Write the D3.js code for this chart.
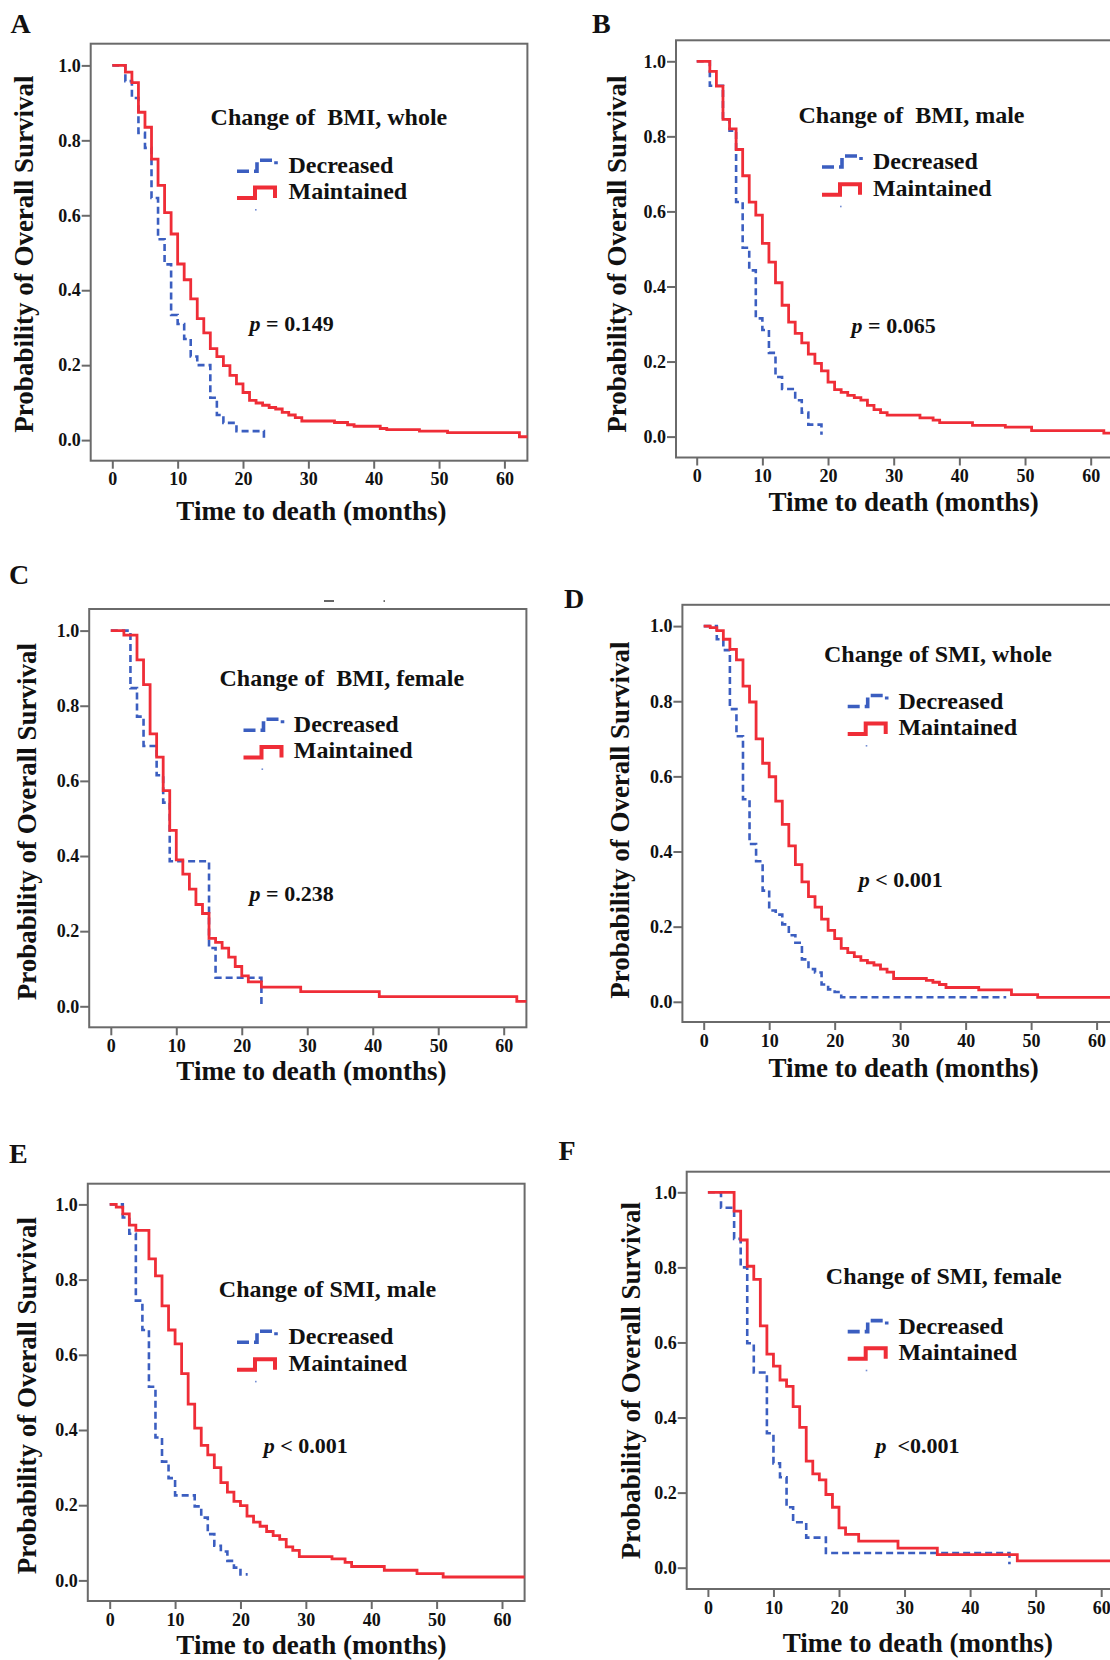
<!DOCTYPE html>
<html>
<head>
<meta charset="utf-8">
<script src="https://cdn.jsdelivr.net/npm/d3@7"></script>
<style>
  html, body { margin: 0; padding: 0; background: #fff; }
  svg { display: block; }
  text { font-family: "Liberation Serif", "Times New Roman", serif; font-weight: bold; fill: #111; }
</style>
</head>
<body>
<svg id="chart" width="1110" height="1660"></svg>
<script>
// ---------------- data ----------------
const panelLetters = ["A", "B", "C", "D", "E", "F"];
const panelTitles = ["Change of  BMI, whole", "Change of  BMI, male", "Change of  BMI, female",
                     "Change of SMI, whole", "Change of SMI, male", "Change of SMI, female"];
const pTexts = [" = 0.149", " = 0.065", " = 0.238", " < 0.001", " < 0.001", "  <0.001"];
const groupNames = ["Decreased", "Maintained"];
const monthTicks = [0, 10, 20, 30, 40, 50, 60];
const survTicks = [0, 0.2, 0.4, 0.6, 0.8, 1.0];
const xTitle = "Time to death (months)";
const yTitle = "Probability of Overall Survival";

// Kaplan-Meier steps: [time (months), survival from that time on]
const A_decreased = [[0,1],[2,0.958],[3,0.913],[4,0.82],[5,0.78],[6,0.646],[7,0.536],[8,0.469],[9,0.334],[10,0.31],[11,0.27],[12,0.223],[13,0.2],[15,0.113],[16,0.067],[17,0.046],[19,0.024],[23.2,0]];
const A_maintained = [[0,1],[2,0.982],[3,0.954],[4,0.875],[5,0.835],[6,0.75],[7,0.68],[8,0.607],[9,0.55],[10,0.47],[11,0.428],[12,0.377],[13,0.324],[14,0.286],[15,0.244],[16,0.223],[17,0.199],[18,0.173],[19,0.15],[20,0.127],[21,0.106],[22,0.099],[23,0.093],[24,0.087],[25,0.083],[26,0.074],[27,0.067],[28,0.06],[29,0.051],[34,0.047],[36,0.041],[37,0.037],[41,0.031],[42,0.028],[47,0.024],[51.3,0.02],[62.3,0.009],[64,0.009]];

const B_decreased = [[0,1],[2,0.935],[4,0.845],[5,0.815],[6,0.625],[7,0.503],[8,0.443],[9,0.315],[10,0.284],[11,0.223],[12,0.159],[13,0.127],[15,0.097],[16,0.064],[17,0.032],[19,0.005]];
const B_maintained = [[0,1],[2,0.973],[3,0.934],[4,0.845],[5,0.82],[6,0.765],[7,0.695],[8,0.625],[9,0.59],[10,0.515],[11,0.465],[12,0.41],[13,0.35],[14,0.305],[15,0.275],[16,0.25],[17,0.22],[18,0.195],[19,0.175],[20,0.145],[21,0.125],[22,0.118],[23,0.11],[24,0.104],[25,0.097],[26,0.083],[27,0.072],[28,0.064],[29,0.057],[34,0.05],[36,0.044],[37,0.037],[42,0.03],[47,0.025],[51,0.016],[62,0.009],[64,0.009]];

const C_decreased = [[0,1],[3,0.847],[4,0.771],[5,0.693],[7,0.615],[8,0.542],[9,0.386],[15,0.155],[16,0.076],[23,0]];
const C_maintained = [[0,1],[2,0.988],[4,0.922],[5,0.856],[6,0.725],[7,0.663],[8,0.574],[9,0.468],[10,0.39],[11,0.352],[12,0.312],[13,0.271],[14,0.247],[15,0.181],[16,0.17],[17,0.155],[18,0.131],[19,0.106],[20,0.081],[21,0.065],[23,0.051],[29,0.039],[41,0.026],[62,0.013],[64,0.013]];

const D_decreased = [[0,1],[2,0.965],[3,0.936],[4,0.779],[5,0.707],[6,0.539],[7,0.42],[8,0.374],[9,0.296],[10,0.243],[11,0.232],[12,0.206],[13,0.177],[14,0.157],[15,0.113],[16,0.087],[17,0.078],[18,0.046],[19,0.033],[20,0.026],[21,0.012],[46.2,0.012]];
const D_maintained = [[0,1],[1,0.996],[2,0.988],[3,0.965],[4,0.938],[5,0.91],[6,0.84],[7,0.798],[8,0.7],[9,0.635],[10,0.599],[11,0.534],[12,0.472],[13,0.415],[14,0.365],[15,0.319],[16,0.28],[17,0.252],[18,0.22],[19,0.19],[20,0.168],[21,0.142],[22,0.131],[23,0.12],[24,0.11],[25,0.104],[26,0.098],[27,0.087],[28,0.079],[29,0.062],[34,0.057],[35,0.052],[36,0.046],[37,0.038],[42,0.032],[47,0.019],[51,0.012],[64,0.012]];

const E_decreased = [[0,1],[2,0.965],[3,0.922],[4,0.744],[5,0.666],[6,0.515],[7,0.38],[8,0.316],[9,0.272],[10,0.226],[13,0.197],[14,0.167],[15,0.123],[16,0.092],[17,0.077],[18,0.052],[19,0.034],[20,0.016],[21.1,0.016]];
const E_maintained = [[0,1],[1,0.993],[2,0.975],[3,0.945],[4,0.931],[6,0.855],[7,0.81],[8,0.73],[9,0.666],[10,0.629],[11,0.55],[12,0.469],[13,0.405],[14,0.359],[15,0.334],[16,0.3],[17,0.26],[18,0.235],[19,0.21],[20,0.199],[21,0.171],[22,0.155],[23,0.144],[24,0.13],[25,0.119],[26,0.109],[27,0.089],[28,0.08],[29,0.063],[34,0.057],[36,0.048],[37,0.037],[42,0.027],[47,0.018],[51,0.009],[64,0.009]];

const F_decreased = [[0,1],[2,0.959],[4,0.876],[5,0.8],[6,0.598],[7,0.52],[9,0.358],[10,0.278],[11,0.241],[12,0.161],[13,0.121],[15,0.08],[18,0.039],[46,0.009]];
const F_maintained = [[0,1],[4,0.95],[5,0.873],[6,0.803],[7,0.768],[8,0.644],[9,0.569],[10,0.537],[11,0.5],[12,0.483],[13,0.429],[14,0.374],[15,0.284],[16,0.25],[17,0.234],[18,0.195],[19,0.161],[20,0.106],[21,0.089],[23,0.071],[29,0.052],[35,0.035],[47.2,0.018],[64,0.018]];

const seriesDecreased = [A_decreased, B_decreased, C_decreased, D_decreased, E_decreased, F_decreased];
const seriesMaintained = [A_maintained, B_maintained, C_maintained, D_maintained, E_maintained, F_maintained];

// ---------------- layout (pixel geometry) ----------------
const layout = [
  {box:[90.7,43.7,527.4,460.7],   x0:112.3, x60:504.4, y1:65.4,   y0:440.1,  letter:[10.6,33],  title:[210.6,125],  leg:[237,288.5,165.3,191],   p:[249.6,331],  xt:[311.5,520],   yt:[32.6,254]},
  {box:[676,40.3,1116,457.5],     x0:696.7, x60:1090.7,y1:61.3,   y0:436.6,  letter:[592,33],   title:[798.5,123.4],leg:[822,872.9,161,187.7],   p:[851.6,333],  xt:[903.7,511.4], yt:[625.6,254]},
  {box:[89.2,609,526.4,1027.3],   x0:110.8, x60:503.7, y1:630.6,  y0:1006.3, letter:[9,584],    title:[219.5,685.8],leg:[243.5,293.8,724.3,750.4],p:[249.6,900.5],xt:[311.5,1080],  yt:[36.2,821.7]},
  {box:[682.4,604.8,1116,1022],   x0:703.7, x60:1096.6,y1:626.1,  y0:1001.8, letter:[564,608],  title:[824,661.7],  leg:[847.7,898.4,700.5,727], p:[858.7,887],  xt:[903.7,1076.6],yt:[629,820]},
  {box:[87.8,1183.7,524.6,1601],  x0:109.7, x60:502,   y1:1204.4, y0:1580.4, letter:[9,1163],   title:[218.8,1297.4],leg:[237,288.5,1336.3,1362.8],p:[263.7,1453], xt:[311.5,1654],  yt:[36.2,1395.5]},
  {box:[686.7,1171.7,1116,1589],  x0:707.9, x60:1101.2,y1:1192.3, y0:1567.7, letter:[558.5,1160],title:[825.8,1283.6],leg:[847.7,898.4,1325.6,1351.7],p:[875.4,1453],xt:[917.8,1652], yt:[639.6,1380.7]}
];

const RED = "#ef2d37";
const BLUE = "#3b5ec0";
const AXIS = "#6a6a6a";

const svg = d3.select("#chart");
const defs = svg.append("defs");

layout.forEach((L, i) => {
  const g = svg.append("g");
  const x = d3.scaleLinear().domain([0, 60]).range([L.x0, L.x60]);
  const y = d3.scaleLinear().domain([0, 1]).range([L.y0, L.y1]);
  const [bl, bt, br, bb] = L.box;

  defs.append("clipPath").attr("id", "clip" + i)
    .append("rect").attr("x", bl).attr("y", bt).attr("width", br - bl).attr("height", bb - bt);

  // axes
  const yAxis = d3.axisLeft(y).tickValues(survTicks).tickFormat(d3.format(".1f")).tickSize(9).tickPadding(1);
  const gy = g.append("g").attr("transform", `translate(${bl},0)`).call(yAxis);
  const xAxis = d3.axisBottom(x).tickValues(monthTicks).tickFormat(d3.format("d")).tickSize(8).tickPadding(4);
  const gx = g.append("g").attr("transform", `translate(0,${bb})`).call(xAxis);
  [gx, gy].forEach(ax => {
    ax.select(".domain").remove();
    ax.selectAll(".tick line").attr("stroke", AXIS).attr("stroke-width", 2);
    ax.selectAll(".tick text").attr("fill", "#111")
      .style("font-family", '"Liberation Sans Narrow", "Liberation Serif", serif')
      .style("font-weight", "bold").style("font-size", "18px");
  });

  // box
  g.append("rect").attr("x", bl).attr("y", bt).attr("width", br - bl).attr("height", bb - bt)
    .attr("fill", "none").attr("stroke", AXIS).attr("stroke-width", 2);

  // curves
  const line = d3.line().x(d => x(d[0])).y(d => y(d[1])).curve(d3.curveStepAfter);
  const cg = g.append("g").attr("clip-path", `url(#clip${i})`);
  cg.append("path").attr("d", line(seriesDecreased[i])).attr("fill", "none")
    .attr("stroke", BLUE).attr("stroke-width", 2.6).attr("stroke-dasharray", "7,4");
  cg.append("path").attr("d", line(seriesMaintained[i])).attr("fill", "none")
    .attr("stroke", RED).attr("stroke-width", 2.8);

  // panel letter
  g.append("text").attr("x", L.letter[0]).attr("y", L.letter[1]).style("font-size", "28px").text(panelLetters[i]);

  // title
  g.append("text").attr("x", L.title[0]).attr("y", L.title[1]).style("font-size", "24px")
    .style("white-space", "pre").attr("xml:space", "preserve").text(panelTitles[i]);

  // legend
  const [sx, tx, cDec, cMai] = L.leg;
  g.append("path").attr("d", `M${sx},${cDec + 6}H${sx + 20}V${cDec - 5}H${sx + 39}V${cDec - 1}`)
    .attr("fill", "none").attr("stroke", BLUE).attr("stroke-width", 3.6).attr("stroke-dasharray", "12,5");
  g.append("path").attr("d", `M${sx},${cMai + 7}H${sx + 18}V${cMai - 3.5}H${sx + 38}V${cMai + 7}`)
    .attr("fill", "none").attr("stroke", RED).attr("stroke-width", 4);
  g.append("rect").attr("x", sx + 18).attr("y", cMai + 18).attr("width", 1.6).attr("height", 1.6).attr("fill", BLUE).attr("opacity", 0.7);
  g.append("text").attr("x", tx).attr("y", cDec + 8).style("font-size", "24px").text(groupNames[0]);
  g.append("text").attr("x", tx).attr("y", cMai + 8).style("font-size", "24px").text(groupNames[1]);

  // p value
  const pt = g.append("text").attr("x", L.p[0]).attr("y", L.p[1]).style("font-size", "22px")
    .style("white-space", "pre").attr("xml:space", "preserve");
  pt.append("tspan").style("font-style", "italic").text("p");
  pt.append("tspan").text(pTexts[i]);

  // axis titles
  g.append("text").attr("x", L.xt[0]).attr("y", L.xt[1]).attr("text-anchor", "middle")
    .style("font-size", "27px").text(xTitle);
  g.append("text").attr("transform", `translate(${L.yt[0]},${L.yt[1]}) rotate(-90)`)
    .attr("text-anchor", "middle").style("font-size", "27px").text(yTitle);
});

// small stray marks above panel C (cropping remnants in the original figure)
svg.append("line").attr("x1", 324).attr("x2", 334).attr("y1", 601).attr("y2", 601).attr("stroke", "#333").attr("stroke-width", 1.5);
svg.append("rect").attr("x", 383.5).attr("y", 600.3).attr("width", 1.5).attr("height", 1.5).attr("fill", "#444");
</script>
</body>
</html>
